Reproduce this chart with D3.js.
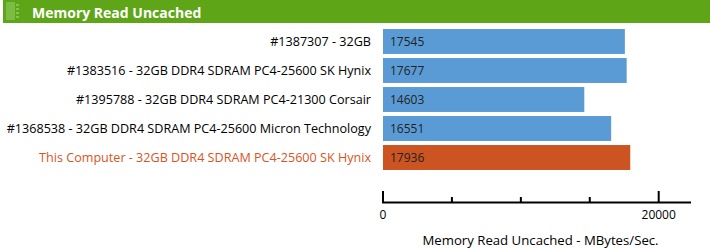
<!DOCTYPE html>
<html>
<head>
<meta charset="utf-8">
<script src="https://cdn.jsdelivr.net/npm/d3@7"></script>
<style>
  body { margin: 0; background: #fff; }
  text { font-family: "Open Sans", "Noto Sans", sans-serif; }
</style>
</head>
<body>
<div id="chart"></div>
<script>
// data
const title = "Memory Read Uncached";
const categories = [
  "#1387307 - 32GB",
  "#1383516 - 32GB DDR4 SDRAM PC4-25600 SK Hynix",
  "#1395788 - 32GB DDR4 SDRAM PC4-21300 Corsair",
  "#1368538 - 32GB DDR4 SDRAM PC4-25600 Micron Technology",
  "This Computer - 32GB DDR4 SDRAM PC4-25600 SK Hynix"
];
const values = [17545, 17677, 14603, 16551, 17936];
const highlighted = [false, false, false, false, true];
const majorTicks = [0, 20000];
const minorTicks = [5000, 10000, 15000];
const axisTitle = "Memory Read Uncached - MBytes/Sec.";

const W = 710, H = 249;

const svg = d3.select("#chart")
  .append("svg")
    .attr("width", W)
    .attr("height", H);

// header bar
svg.append("rect")
  .attr("x", 3).attr("y", 0)
  .attr("width", W - 3).attr("height", 23)
  .attr("fill", "#5ea617");
// little memory-stick icon
svg.append("rect")
  .attr("x", 6).attr("y", 2)
  .attr("width", 9).attr("height", 18)
  .attr("fill", "#7cbc42");
svg.selectAll(".pin")
  .data(d3.range(4))
  .join("rect")
    .attr("x", 16).attr("y", d => 4 + d * 4)
    .attr("width", 3).attr("height", 2)
    .attr("fill", "#86c250");
svg.append("text")
  .attr("x", 32).attr("y", 17.5)
  .attr("fill", "#fff")
  .style("font-size", "14px")
  .style("font-weight", "bold")
  .text(title);

// scales
const x = d3.scaleLinear()
  .domain([0, 20000])
  .range([383, 658.7]);

const y = d3.scaleBand()
  .domain(d3.range(categories.length))
  .range([27, 172])
  .paddingInner(0.14)
  .paddingOuter(0.07);

// bars
svg.selectAll(".bar")
  .data(values)
  .join("rect")
    .attr("class", "bar")
    .attr("x", x(0))
    .attr("y", (d, i) => y(i))
    .attr("width", d => x(d) - x(0))
    .attr("height", y.bandwidth())
    .attr("fill", (d, i) => highlighted[i] ? "#cc5420" : "#5b9bd5");

// values inside bars
svg.selectAll(".val")
  .data(values)
  .join("text")
    .attr("class", "val")
    .attr("x", x(0) + 7)
    .attr("y", (d, i) => y(i) + y.bandwidth() / 2)
    .attr("dy", "0.35em")
    .attr("fill", "#222")
    .style("font-size", "12px")
    .text(d => d);

// category labels
svg.selectAll(".cat")
  .data(categories)
  .join("text")
    .attr("class", "cat")
    .attr("x", 371)
    .attr("y", (d, i) => y(i) + y.bandwidth() / 2)
    .attr("dy", "0.35em")
    .attr("text-anchor", "end")
    .attr("fill", (d, i) => highlighted[i] ? "#d9541e" : "#000")
    .style("font-size", "12.6px")
    .text(d => d);

// x axis
const axisY = 202.5;
const ax = svg.append("g");
ax.append("line")
  .attr("x1", x(0) - 1).attr("x2", 691)
  .attr("y1", axisY).attr("y2", axisY)
  .attr("stroke", "#000").attr("stroke-width", 2);
ax.selectAll(".major")
  .data(majorTicks)
  .join("line")
    .attr("x1", d => x(d)).attr("x2", d => x(d))
    .attr("y1", 191).attr("y2", axisY)
    .attr("stroke", "#000").attr("stroke-width", 2);
ax.selectAll(".minor")
  .data(minorTicks)
  .join("line")
    .attr("x1", d => x(d)).attr("x2", d => x(d))
    .attr("y1", 197).attr("y2", axisY)
    .attr("stroke", "#000").attr("stroke-width", 2);
ax.selectAll(".tl")
  .data(majorTicks)
  .join("text")
    .attr("x", d => x(d))
    .attr("y", 215)
    .attr("dy", "0.35em")
    .attr("text-anchor", "middle")
    .attr("fill", "#000")
    .style("font-size", "12px")
    .text(d => d);

svg.append("text")
  .attr("x", 540.5)
  .attr("y", 240)
  .attr("dy", "0.35em")
  .attr("text-anchor", "middle")
  .attr("fill", "#000")
  .style("font-size", "13.2px")
  .text(axisTitle);
</script>
</body>
</html>
